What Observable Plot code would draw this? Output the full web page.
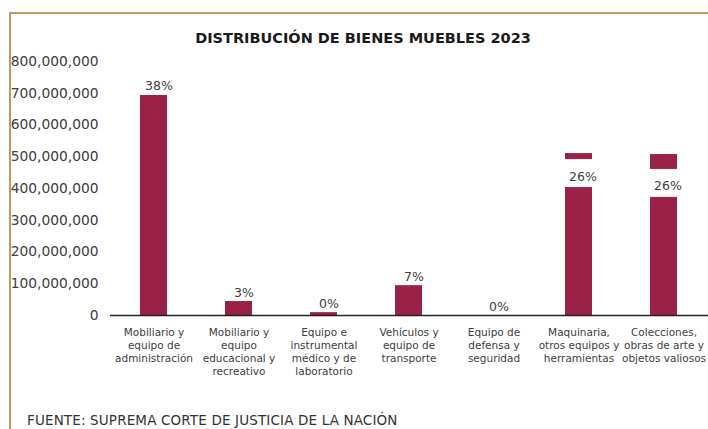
<!DOCTYPE html>
<html>
<head>
<meta charset="utf-8">
<script src="https://cdn.jsdelivr.net/npm/d3@7"></script>
<script src="https://cdn.jsdelivr.net/npm/@observablehq/plot@0.6"></script>
<style>
  html, body { margin: 0; padding: 0; background: #fff; }
  body { width: 708px; height: 429px; overflow: hidden; position: relative; font-family: "DejaVu Sans", sans-serif; }
  #frame { position: absolute; left: 9px; top: 12px; width: 720px; height: 440px;
           border-top: 2px solid #bf9a5f; border-left: 2px solid #bf9a5f; }
  #title { position: absolute; top: 30px; left: 0; width: 726px; text-align: center;
           font-weight: bold; font-size: 14.5px; color: #1a1a1a; }
  #chart { position: absolute; top: 50px; left: 0; }
  #caption { position: absolute; left: 27px; top: 412px; font-size: 13.5px; color: #333; letter-spacing: 0.15px; }
</style>
</head>
<body>
<div id="frame"></div>
<div id="title">DISTRIBUCIÓN DE BIENES MUEBLES 2023</div>
<div id="chart"></div>
<div id="caption">FUENTE: SUPREMA CORTE DE JUSTICIA DE LA NACIÓN</div>
<script>
const categories = [
  "Mobiliario y equipo de administración",
  "Mobiliario y equipo educacional y recreativo",
  "Equipo e instrumental médico y de laboratorio",
  "Vehículos y equipo de transporte",
  "Equipo de defensa y seguridad",
  "Maquinaria, otros equipos y herramientas",
  "Colecciones, obras de arte y objetos valiosos"
];
const values = [693e6, 44e6, 9e6, 94e6, 0, 510e6, 507e6];
const pctLabels = ["38%", "3%", "0%", "7%", "0%", "26%", "26%"];
const tickLabels = [
  "Mobiliario y\nequipo de\nadministración",
  "Mobiliario y\nequipo\neducacional y\nrecreativo",
  "Equipo e\ninstrumental\nmédico y de\nlaboratorio",
  "Vehículos y\nequipo de\ntransporte",
  "Equipo de\ndefensa y\nseguridad",
  "Maquinaria,\notros equipos y\nherramientas",
  "Colecciones,\nobras de arte y\nobjetos valiosos"
];
// value at which the boxed (inside) labels sit, null = label above the bar
const insideLabelAt = [null, null, null, null, null, 447e6, 416e6];
const yTicks = [0, 100e6, 200e6, 300e6, 400e6, 500e6, 600e6, 700e6, 800e6];

const data = categories.map((c, i) => ({c, v: values[i], pct: pctLabels[i], box: insideLabelAt[i]}));
const outside = data.filter(d => d.box == null);
const inside = data.filter(d => d.box != null);

const chart = Plot.plot({
  width: 708,
  height: 340,
  marginLeft: 110,
  marginRight: 0,
  marginTop: 11,
  marginBottom: 75,
  style: {fontFamily: "DejaVu Sans, sans-serif", color: "#404040", background: "transparent", overflow: "visible"},
  x: {domain: categories, paddingInner: 0.68, paddingOuter: 0.34, label: null},
  y: {domain: [0, 800e6], label: null},
  marks: [
    Plot.axisY({ticks: yTicks, tickSize: 0, tickPadding: 12, fontSize: 13.8, tickFormat: d3.format(","), label: null}),
    Plot.axisX({tickSize: 0, tickPadding: 11, fontSize: 10.5, lineHeight: 1.24,
      tickFormat: d => tickLabels[categories.indexOf(d)], label: null}),
    Plot.barY(data, {x: "c", y: "v", fill: "#9b2247"}),
    Plot.ruleY([0], {stroke: "#222", strokeWidth: 1.5}),
    Plot.barY(inside, {x: "c", y1: d => d.box - 44e6, y2: d => d.box + 44e6, fill: "white"}),
    Plot.text(outside, {x: "c", y: "v", text: "pct", lineAnchor: "bottom", dy: -5, dx: 5, fontSize: 12.5, fill: "#404040"}),
    Plot.text(inside, {x: "c", y: "box", text: "pct", dy: 3, dx: 4, fontSize: 12.5, fill: "#404040"})
  ]
});
document.getElementById("chart").appendChild(chart);
</script>
</body>
</html>
